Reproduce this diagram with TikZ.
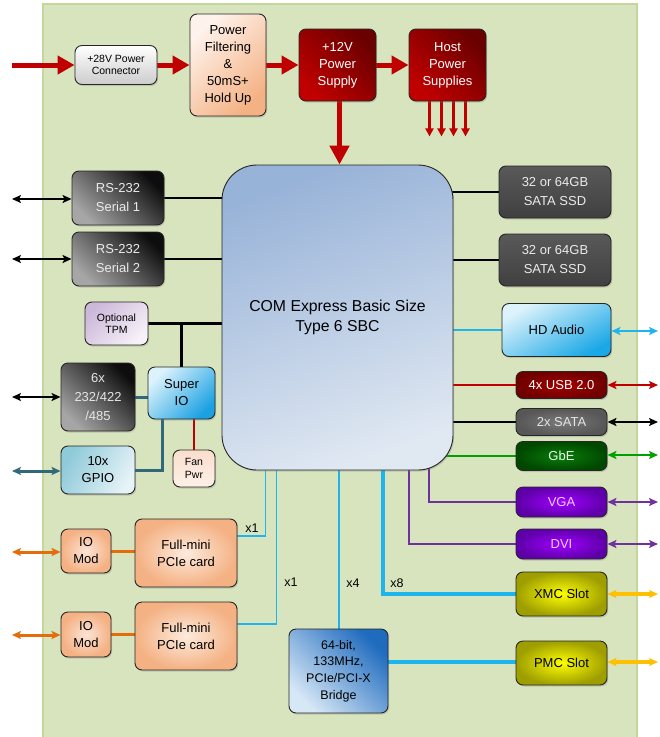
\documentclass[tikz,border=0pt]{standalone}
\usepackage{fontspec}
\setmainfont{Liberation Sans}
\usetikzlibrary{arrows.meta,shadows,backgrounds}

\definecolor{board}{HTML}{D7E4BD}
\definecolor{boardline}{HTML}{C3D69B}
\definecolor{pwrred}{HTML}{C00000}
\definecolor{pcie}{HTML}{1EB4EE}
\definecolor{vid}{HTML}{7030A0}
\definecolor{lan}{HTML}{00A000}
\definecolor{gpioblue}{HTML}{31697A}
\definecolor{iomod}{HTML}{E46C0A}
\definecolor{slot}{HTML}{FFC000}

\begin{document}
\begin{tikzpicture}[x=1pt,y=-1pt,
  box/.style={draw=black!85, line width=0.9pt, rounded corners=7pt, align=center, inner sep=0pt,
    drop shadow={shadow xshift=1.2pt, shadow yshift=-1.5pt, opacity=0.3}},
  dim/.style 2 args={minimum width=#1pt, minimum height=#2pt},
  big/.style={font=\fontsize{13}{17}\selectfont},
  bigw/.style={font=\fontsize{13}{19}\selectfont},
  sml/.style={font=\fontsize{10.5}{12.5}\selectfont},
  pwr/.style={pwrred, line width=5pt, -{Triangle[length=17pt,width=18pt]}},
  pwrs/.style={pwrred, line width=2.5pt, -{Triangle[length=8pt,width=8pt]}},
  dbl/.style={line width=#1, {Stealth[length=9pt,width=8pt,inset=2pt]}-{Stealth[length=9pt,width=8pt,inset=2pt]}},
  thk/.style={black, line width=2.5pt},
  cyn/.style={pcie, line width=1.7pt},
  cynw/.style={pcie, line width=4pt},
  vio/.style={vid, line width=2pt},
  gpioline/.style={gpioblue, line width=3pt}]

\useasboundingbox (0,0) rectangle (660,737);
\begin{scope}[on background layer]
  \fill[board] (43,4) rectangle (637,737);
  \draw[boardline, line width=1.5pt] (43,737) -- (43,4) -- (637,4) -- (637,737);
\end{scope}

% power chain
\node[box, sml, dim={82}{39}, top color=white, bottom color=black!20] (conn) at (116,65) {+28V Power\\Connector};
\node[box, big, dim={76}{102}, top color={rgb,255:red,254;green,243;blue,236}, bottom color={rgb,255:red,244;green,177;blue,131}, shading angle=45] (filt) at (228,65) {Power\\Filtering\\\&\\50mS+\\Hold Up};
\node[box, big, dim={77}{72}, text=white, top color={rgb,255:red,106;green,0;blue,0}, bottom color=pwrred, shading angle=-45] (psu) at (337.5,65) {+12V\\Power\\Supply};
\node[box, big, dim={77}{72}, text=white, top color={rgb,255:red,106;green,0;blue,0}, bottom color=pwrred, shading angle=-45] (host) at (447.5,65) {Host\\Power\\Supplies};

% SBC
\node[box, rounded corners=35pt, dim={231}{305}, font=\fontsize{15.8}{19.5}\selectfont, top color={rgb,255:red,152;green,179;blue,216}, bottom color={rgb,255:red,224;green,232;blue,242}, shading angle=20] (com) at (337.5,317.5) {COM Express Basic Size\\Type 6 SBC};

% left side
\node[box, bigw, dim={92}{54}, text=black!8, top color=black!95, bottom color=black!35, shading angle=-45] (ser1) at (118,198) {RS-232\\Serial 1};
\node[box, bigw, dim={92}{54}, text=black!8, top color=black!95, bottom color=black!35, shading angle=-45] (ser2) at (118,259) {RS-232\\Serial 2};
\node[box, sml, dim={63}{43}, top color={rgb,255:red,205;green,184;blue,218}, bottom color={rgb,255:red,246;green,242;blue,248}, shading angle=45] (tpm) at (116.5,323.5) {Optional\\TPM};
\node[box, bigw, dim={74}{68}, text=black!10, top color=black!95, bottom color=black!35, shading angle=-45] (six) at (98,397) {6x\\232/422\\/485};
\node[box, big, dim={67}{52}, top color={rgb,255:red,221;green,243;blue,252}, bottom color={rgb,255:red,27;green,161;blue,226}, shading angle=45] (sio) at (181.5,393) {Super\\IO};
\node[box, big, dim={74}{48}, top color={rgb,255:red,143;green,202;blue,217}, bottom color={rgb,255:red,230;green,243;blue,247}, shading angle=60] (gpio) at (98,470) {10x\\GPIO};
\node[box, sml, dim={42}{37}, top color={rgb,255:red,250;green,222;blue,205}, bottom color={rgb,255:red,253;green,240;blue,232}] (fan) at (194,468.5) {Fan\\Pwr};
\node[box, big, dim={50}{44}, inner color={rgb,255:red,252;green,228;blue,214}, outer color={rgb,255:red,244;green,177;blue,131}] (io1) at (86,551) {IO\\Mod};
\node[box, big, dim={50}{45}, inner color={rgb,255:red,252;green,228;blue,214}, outer color={rgb,255:red,244;green,177;blue,131}] (io2) at (86,634.5) {IO\\Mod};
\node[box, big, dim={102}{68}, inner color={rgb,255:red,253;green,235;blue,221}, outer color={rgb,255:red,244;green,177;blue,131}] (card1) at (186,553) {Full-mini\\PCIe card};
\node[box, big, dim={102}{68}, inner color={rgb,255:red,253;green,235;blue,221}, outer color={rgb,255:red,244;green,177;blue,131}] (card2) at (186,636) {Full-mini\\PCIe card};
\node[box, font=\fontsize{12.5}{16.7}\selectfont, dim={99}{84}, top color={rgb,255:red,31;green,107;blue,190}, bottom color={rgb,255:red,214;green,231;blue,246}, shading angle=-45] (bridge) at (338.5,671) {64-bit,\\133MHz,\\PCIe/PCI-X\\Bridge};

% right side
\node[box, bigw, dim={112}{52}, text=black!8, top color=black!65, bottom color=black!75] (ssd1) at (555,192) {32 or 64GB\\SATA SSD};
\node[box, bigw, dim={112}{52}, text=black!8, top color=black!65, bottom color=black!75] (ssd2) at (555,260) {32 or 64GB\\SATA SSD};
\node[box, big, dim={109}{53}, top color={rgb,255:red,221;green,243;blue,252}, bottom color={rgb,255:red,27;green,168;blue,230}, shading angle=30] (hd) at (556.5,330) {HD Audio};
\node[box, big, dim={91}{27}, text=white, inner color={rgb,255:red,165;green,0;blue,0}, outer color={rgb,255:red,112;green,0;blue,0}] (usb) at (561.5,385) {4x USB 2.0};
\node[box, big, dim={91}{27}, text=black!10, inner color=black!52, outer color=black!66] (sata) at (561.5,422) {2x SATA};
\node[box, big, dim={91}{29}, text=green!8, inner color={rgb,255:red,10;green,125;blue,10}, outer color={rgb,255:red,0;green,72;blue,0}] (gbe) at (561.5,456) {GbE};
\node[box, big, dim={91}{30}, text={rgb,255:red,232;green,208;blue,255}, inner color={rgb,255:red,160;green,0;blue,255}, outer color={rgb,255:red,94;green,0;blue,168}] (vga) at (561.5,502) {VGA};
\node[box, big, dim={91}{30}, text={rgb,255:red,232;green,208;blue,255}, inner color={rgb,255:red,160;green,0;blue,255}, outer color={rgb,255:red,94;green,0;blue,168}] (dvi) at (561.5,544) {DVI};
\node[box, big, dim={91}{44}, inner color={rgb,255:red,255;green,255;blue,0}, outer color={rgb,255:red,158;green,158;blue,0}] (xmc) at (561.5,594) {XMC Slot};
\node[box, big, dim={91}{44}, inner color={rgb,255:red,255;green,255;blue,0}, outer color={rgb,255:red,158;green,158;blue,0}] (pmc) at (561.5,663) {PMC Slot};

% lane labels
\node[font=\fontsize{12.5}{15}\selectfont] (lane1) at (252,528) {x1};
\node[font=\fontsize{12.5}{15}\selectfont] (lane2) at (291,582) {x1};
\node[font=\fontsize{12.5}{15}\selectfont] (lane4) at (353,583) {x4};
\node[font=\fontsize{12.5}{15}\selectfont] (lane8) at (397,583) {x8};

% outside ends
\coordinate (pin) at (12,65);
\coordinate (ls1) at (12,199);
\coordinate (ls2) at (12,259);
\coordinate (lsix) at (12,397);
\coordinate (lgpio) at (12,471);
\coordinate (lio1) at (12,552);
\coordinate (lio2) at (12,635);
\coordinate (rhd) at (658,331);
\coordinate (rusb) at (658,385);
\coordinate (rsata) at (658,422);
\coordinate (rgbe) at (658,455);
\coordinate (rvga) at (658,502);
\coordinate (rdvi) at (658,544);
\coordinate (rxmc) at (658,594);
\coordinate (rpmc) at (658,662);

\begin{scope}[on background layer]
% power
\draw[pwr] (pin) -- (conn.west);
\draw[pwr] (conn.east) -- (filt.west);
\draw[pwr] (filt.east) -- (psu.west);
\draw[pwr] (psu.east) -- (host.west);
\draw[pwrred, line width=5pt, -{Triangle[length=19pt,width=19pt]}] ([xshift=2pt]psu.south) -- ([xshift=2pt]psu.south |- com.north);
\foreach \dx in {-18,-6,6,18}
  \draw[pwrs] ([xshift=\dx pt]host.south) -- ++(0,35);

% left links
\draw[thk] (ser1.east) -- (ser1.east -| com.center);
\draw[thk] (ser2.east) -- (ser2.east -| com.center);
\draw[thk] (tpm.east) -- (tpm.east -| com.center);
\draw[thk] (sio.north) -- (sio.north |- tpm.east);
\draw[gpioline] (six.east) -- (six.east -| sio.center);
\draw[gpioline] (gpio.east) -| ([xshift=-19pt]sio.center);
\draw[pwrred, line width=2pt] (fan.north) -- (fan.north |- sio.center);
\draw[iomod, line width=3pt] (io1.east) -- (io1.east -| card1.center);
\draw[iomod, line width=3pt] (io2.east) -- (io2.east -| card2.center);
\draw[cyn] ([yshift=17pt]card1.east) -| ([xshift=44pt,yshift=20pt]com.south west);
\draw[cyn] ([yshift=12pt]card2.east) -| ([xshift=55pt,yshift=20pt]com.south west);
\draw[cyn] ([xshift=0.5pt]bridge.north) -- ([xshift=0.5pt]bridge.north |- com.center);

% right links
\draw[thk] (ssd1.west) -- (ssd1.west -| com.center);
\draw[thk] (ssd2.west) -- (ssd2.west -| com.center);
\draw[pcie, line width=2.5pt] (hd.west) -- (hd.west -| com.center);
\draw[pwrred, line width=2pt] (usb.west) -- (usb.west -| com.center);
\draw[black, line width=2pt] (sata.west) -- (sata.west -| com.center);
\draw[lan, line width=2pt] (gbe.west) -- (gbe.west -| com.center);
\draw[vio] (vga.west) -| ([xshift=207pt,yshift=20pt]com.south west);
\draw[vio] (dvi.west) -| ([xshift=187pt,yshift=20pt]com.south west);
\draw[cynw] (xmc.west) -| ([xshift=161pt,yshift=20pt]com.south west);
\draw[cynw] ([yshift=1pt]pmc.west) -- ([yshift=1pt]pmc.west -| bridge.center);

% external connectors
\draw[dbl=1.6pt] (ls1) -- (ls1 -| ser1.west);
\draw[dbl=1.6pt] (ls2) -- (ls2 -| ser2.west);
\draw[dbl=1.6pt] (lsix) -- (lsix -| six.west);
\draw[dbl=3pt, gpioblue] (lgpio) -- (lgpio -| gpio.west);
\draw[dbl=3pt, iomod] (lio1) -- (lio1 -| io1.west);
\draw[dbl=3pt, iomod] (lio2) -- (lio2 -| io2.west);
\draw[dbl=2.5pt, pcie] (rhd) -- (rhd -| hd.east);
\draw[dbl=2pt, pwrred] (rusb) -- (rusb -| usb.east);
\draw[dbl=2pt, black] (rsata) -- (rsata -| sata.east);
\draw[dbl=2pt, lan] (rgbe) -- (rgbe -| gbe.east);
\draw[dbl=2pt, vid] (rvga) -- (rvga -| vga.east);
\draw[dbl=2pt, vid] (rdvi) -- (rdvi -| dvi.east);
\draw[dbl=4pt, slot] (rxmc) -- (rxmc -| xmc.east);
\draw[dbl=4pt, slot] (rpmc) -- (rpmc -| pmc.east);
\end{scope}
\end{tikzpicture}
\end{document}
